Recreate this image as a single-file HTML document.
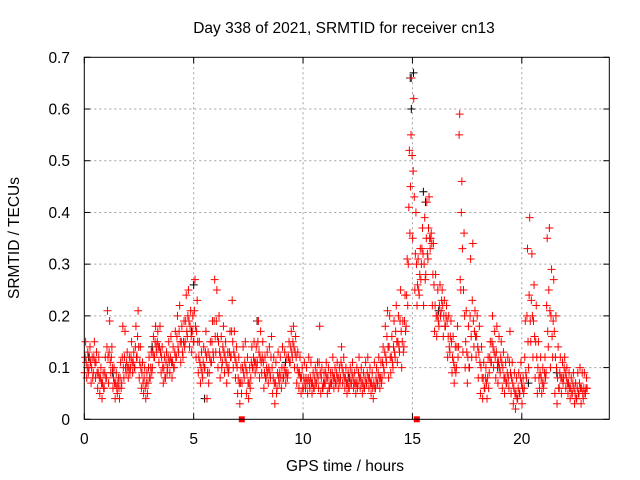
<!DOCTYPE html>
<html><head><meta charset="utf-8"><style>
html,body{margin:0;padding:0;background:#fff;}
svg{display:block;font-family:"Liberation Sans",sans-serif;}
</style></head><body>
<svg id="chart" width="640" height="480" viewBox="0 0 640 480">
<rect x="0" y="0" width="640" height="480" fill="#fff"/>
<text x="344" y="33" font-size="15.5" text-anchor="middle" fill="#000">Day 338 of 2021, SRMTID for receiver cn13</text>
<text x="345" y="471" font-size="15.5" text-anchor="middle" fill="#000">GPS time / hours</text>
<text transform="translate(19,238) rotate(-90)" font-size="15.5" text-anchor="middle" fill="#000">SRMTID / TECUs</text>
<g id="grid"></g>
<g id="ticks"></g>
<g id="black"></g>
<g id="red"></g>
<rect x="84.3" y="57.3" width="525" height="362" fill="none" stroke="#000" stroke-width="1"/>
</svg>
<script>
const xTicks=[0,5,10,15,20];
const yTicks=[0,0.1,0.2,0.3,0.4,0.5,0.6,0.7];
const yTickLabels=["0","0.1","0.2","0.3","0.4","0.5","0.6","0.7"];
const redStart=0, redStep=0.1;
const redLow=[.09,.08,.10,.07,.09,.08,.06,.05,.04,.06,.08,.07,.09,.06,.04,.05,.04,.07,.08,.09,.08,.10,.09,.10,.12,.08,.06,.05,.04,.07,.08,.10,.12,.13,.11,.09,.07,.08,.10,.09,.08,.10,.12,.13,.11,.12,.15,.16,.14,.13,.15,.12,.09,.07,.08,.10,.04,.09,.11,.12,.13,.10,.08,.11,.09,.07,.10,.12,.10,.08,.05,.03,.07,.08,.05,.04,.08,.10,.09,.11,.08,.09,.06,.08,.07,.08,.05,.03,.06,.07,.06,.08,.07,.09,.11,.12,.10,.07,.06,.05,.06,.06,.05,.06,.05,.06,.07,.06,.05,.06,.07,.05,.06,.07,.06,.07,.06,.08,.07,.06,.05,.06,.07,.06,.05,.07,.06,.05,.06,.07,.06,.05,.04,.06,.07,.06,.08,.09,.11,.08,.09,.10,.12,.11,.13,.10,.14,.18,.30,.45,.35,.25,.22,.24,.30,.22,.28,.31,.33,.22,.17,.16,.18,.21,.16,.18,.12,.13,.09,.07,.10,.14,.25,.13,.10,.07,.10,.12,.14,.12,.08,.05,.04,.06,.04,.09,.11,.10,.08,.07,.09,.06,.05,.07,.06,.05,.03,.02,.04,.05,.03,.06,.08,.10,.15,.12,.08,.05,.06,.05,.07,.09,.14,.10,.12,.05,.03,.06,.05,.08,.06,.05,.04,.05,.03,.04,.05,.03,.04,.05];
const redHigh=[.15,.13,.14,.12,.15,.13,.12,.10,.09,.12,.21,.19,.14,.10,.09,.08,.11,.18,.17,.13,.12,.15,.13,.18,.21,.14,.11,.10,.09,.12,.13,.16,.18,.17,.18,.14,.12,.13,.15,.16,.14,.17,.20,.22,.18,.19,.24,.25,.21,.20,.27,.23,.15,.13,.14,.17,.13,.15,.19,.27,.25,.20,.16,.18,.15,.13,.17,.23,.17,.14,.12,.10,.14,.15,.12,.10,.14,.15,.14,.19,.17,.15,.12,.13,.14,.16,.12,.11,.13,.12,.14,.13,.12,.15,.17,.18,.16,.13,.12,.10,.11,.10,.12,.11,.09,.10,.11,.18,.10,.09,.11,.10,.09,.12,.10,.11,.10,.14,.12,.10,.09,.10,.11,.09,.10,.12,.10,.09,.11,.12,.10,.09,.11,.10,.12,.11,.14,.18,.21,.20,.16,.19,.22,.20,.25,.19,.24,.31,.52,.66,.62,.40,.31,.33,.37,.39,.42,.43,.36,.34,.28,.25,.26,.25,.23,.22,.20,.19,.16,.14,.18,.59,.46,.36,.21,.18,.31,.34,.21,.20,.18,.14,.11,.10,.12,.15,.20,.17,.18,.16,.15,.13,.11,.12,.17,.11,.09,.08,.09,.11,.08,.19,.33,.39,.32,.26,.22,.15,.12,.10,.12,.35,.37,.29,.27,.20,.14,.12,.11,.12,.10,.09,.08,.09,.07,.09,.10,.09,.09,.08];
const redMidA=[.12,.10,.12,.10,.12,.11,.09,.08,.07,.09,.14,.13,.12,.08,.07,.07,.08,.12,.12,.11,.10,.12,.11,.14,.16,.11,.09,.08,.07,.10,.10,.13,.15,.15,.14,.12,.10,.11,.12,.12,.11,.13,.16,.17,.15,.15,.19,.20,.18,.17,.21,.17,.12,.10,.11,.13,.09,.12,.15,.19,.19,.15,.12,.14,.12,.10,.13,.17,.13,.11,.08,.07,.10,.11,.09,.07,.11,.12,.11,.15,.12,.12,.09,.10,.10,.12,.08,.07,.09,.09,.10,.10,.09,.12,.14,.15,.13,.10,.09,.08,.08,.08,.08,.08,.07,.08,.09,.11,.08,.07,.09,.08,.07,.09,.08,.09,.08,.11,.09,.08,.07,.08,.09,.07,.07,.09,.08,.07,.08,.09,.08,.07,.07,.08,.09,.08,.11,.13,.16,.14,.12,.14,.17,.15,.19,.15,.19,.24,.41,.55,.48,.32,.26,.28,.33,.30,.35,.37,.35,.28,.22,.20,.22,.23,.20,.20,.16,.16,.12,.10,.14,.55,.40,.25,.15,.12,.20,.23,.17,.16,.13,.10,.08,.08,.08,.12,.15,.13,.13,.11,.12,.10,.08,.09,.11,.08,.06,.05,.06,.08,.06,.12,.20,.24,.23,.19,.15,.10,.09,.07,.09,.22,.25,.20,.19,.12,.08,.09,.08,.10,.08,.07,.06,.07,.05,.06,.07,.06,.06,.06];
const redMidB=[.11,.09,.11,.08,.11,.09,.08,.07,.06,.08,.12,.11,.10,.07,.06,.06,.06,.10,.10,.10,.09,.11,.10,.12,.14,.10,.07,.06,.05,.08,.09,.12,.14,.14,.13,.10,.08,.09,.11,.11,.10,.12,.14,.15,.13,.14,.17,.19,.16,.15,.18,.15,.11,.09,.10,.12,.07,.11,.13,.16,.16,.13,.10,.13,.11,.09,.12,.15,.12,.10,.07,.05,.09,.10,.07,.06,.10,.11,.10,.13,.11,.11,.08,.09,.09,.10,.07,.05,.08,.08,.08,.09,.08,.11,.13,.14,.12,.09,.08,.06,.07,.07,.07,.07,.06,.07,.08,.09,.06,.07,.08,.06,.07,.08,.07,.08,.07,.10,.08,.07,.06,.07,.08,.07,.06,.08,.07,.06,.07,.08,.07,.06,.06,.07,.08,.07,.10,.12,.14,.12,.11,.13,.15,.14,.17,.13,.17,.22,.36,.51,.43,.30,.25,.27,.32,.27,.32,.35,.34,.26,.20,.19,.20,.22,.18,.19,.14,.15,.11,.09,.12,.27,.33,.20,.13,.10,.16,.19,.16,.14,.11,.08,.06,.07,.06,.11,.14,.12,.11,.10,.11,.08,.07,.08,.09,.07,.05,.04,.05,.07,.05,.09,.15,.19,.20,.16,.12,.08,.08,.06,.08,.17,.21,.16,.17,.10,.06,.08,.07,.09,.07,.06,.05,.06,.04,.05,.06,.05,.05,.06];
const blackTimes=[0.2,1.3,3.1,4.9,5.0,5.5,7.9,9.2,12.1,14.9,14.95,15.05,15.5,15.6,16.2,18.9,20.3,21.6,22.6];
const blackVals=[0.12,0.09,0.14,0.17,0.26,0.04,0.19,0.11,0.08,0.66,0.60,0.67,0.44,0.42,0.21,0.10,0.07,0.09,0.05];
const gapTimes=[7.2,15.2];

const X0=84.3,X1=609.3,Y0=419.3,Y1=57.3,XMAX=24,YMAX=0.7;
const sx=t=>X0+(t/XMAX)*(X1-X0);
const sy=v=>Y0-(v/YMAX)*(Y0-Y1);
const NS="http://www.w3.org/2000/svg";
function mk(tag,parent){const e=document.createElementNS(NS,tag);parent.appendChild(e);return e;}
const grid=document.getElementById('grid'),ticks=document.getElementById('ticks');
xTicks.forEach(t=>{
  const x=sx(t);
  if(t>0){const l=mk('line',grid);l.setAttribute('x1',x);l.setAttribute('x2',x);l.setAttribute('y1',Y1);l.setAttribute('y2',Y0);l.setAttribute('stroke','#a0a0a0');l.setAttribute('stroke-dasharray','2,3');
  
  }
  [[Y0,Y0-6],[Y1,Y1+6]].forEach(p=>{const k=mk('line',ticks);k.setAttribute('x1',x);k.setAttribute('x2',x);k.setAttribute('y1',p[0]);k.setAttribute('y2',p[1]);k.setAttribute('stroke','#000');
  
  });
  const tx=mk('text',ticks);tx.setAttribute('x',x);tx.setAttribute('y',444);tx.setAttribute('font-size','15.5');tx.setAttribute('text-anchor','middle');tx.textContent=String(t);
  
  
});
yTicks.forEach((v,i)=>{
  const y=sy(v);
  if(v>0&&v<YMAX){const l=mk('line',grid);l.setAttribute('x1',X0);l.setAttribute('x2',X1);l.setAttribute('y1',y);l.setAttribute('y2',y);l.setAttribute('stroke','#a0a0a0');l.setAttribute('stroke-dasharray','2,3');
  
  }
  [[X0,X0+6],[X1,X1-6]].forEach(p=>{const k=mk('line',ticks);k.setAttribute('x1',p[0]);k.setAttribute('x2',p[1]);k.setAttribute('y1',y);k.setAttribute('y2',y);k.setAttribute('stroke','#000');
  
  });
  const tx=mk('text',ticks);tx.setAttribute('x',70);tx.setAttribute('y',y+5.5);tx.setAttribute('font-size','15.5');tx.setAttribute('text-anchor','end');tx.textContent=yTickLabels[i];
  
  
});
function cross(g,t,v,color){
  const x=sx(t),y=sy(v);
  const p=mk('path',g);
  p.setAttribute('d',`M${x-4},${y}H${x+4}M${x},${y-4}V${y+4}`);
  p.setAttribute('stroke',color);p.setAttribute('stroke-width','1');
  
  
}
const black=document.getElementById('black'),red=document.getElementById('red');
blackTimes.forEach((t,i)=>cross(black,t,blackVals[i],'#000'));
redLow.forEach((v,i)=>{const t=redStart+i*redStep;
  cross(red,t+0.01,v,'#f00');
  cross(red,t+0.035,redMidA[i],'#f00');
  cross(red,t+0.06,redHigh[i],'#f00');
  cross(red,t+0.085,redMidB[i],'#f00');});
gapTimes.forEach(t=>{
  const r=mk('rect',red);r.setAttribute('x',sx(t)-3);r.setAttribute('y',Y0-3);r.setAttribute('width',6);r.setAttribute('height',6);r.setAttribute('fill','#f00');
  
  
});
</script>
</body></html>
